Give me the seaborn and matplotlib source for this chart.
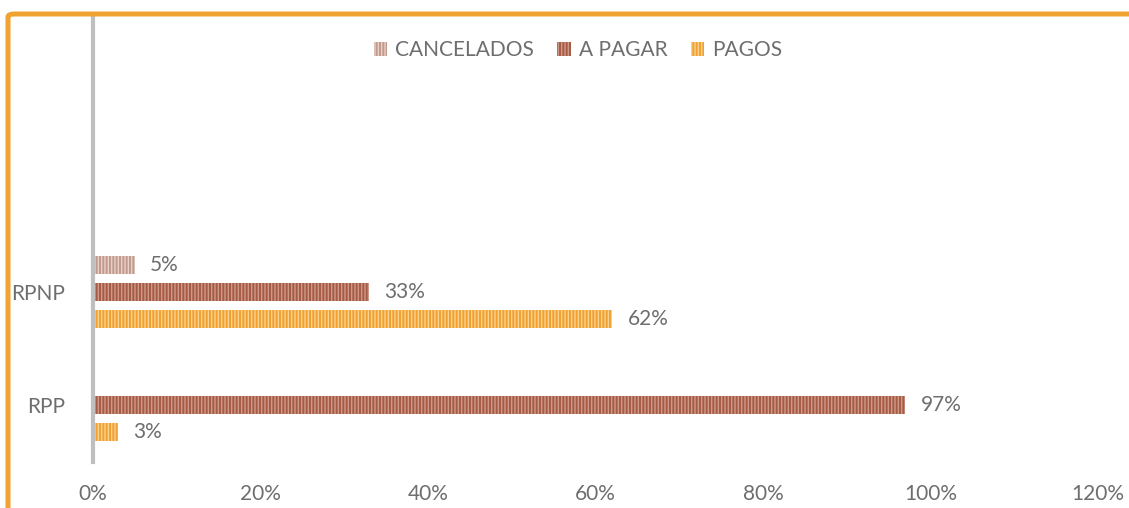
import matplotlib
matplotlib.use("Agg")
import matplotlib.pyplot as plt
import seaborn as sns
import pandas as pd
from matplotlib.patches import FancyBboxPatch, Patch

categories = ["RPNP", "RPP"]
series = ["CANCELADOS", "A PAGAR", "PAGOS"]
cancelados = [0.05, 0.0]
a_pagar = [0.33, 0.97]
pagos = [0.62, 0.03]
xticks = [0, 0.2, 0.4, 0.6, 0.8, 1.0, 1.2]

colors = {"CANCELADOS": "#C3998C", "A PAGAR": "#A65B45", "PAGOS": "#F0A130"}
stripe = {"CANCELADOS": "#E6D2CB", "A PAGAR": "#CF9A8A", "PAGOS": "#F9D190"}

rows = []
for i, c in enumerate(categories):
    for s, vals in zip(series, [cancelados, a_pagar, pagos]):
        rows.append({"cat": c, "serie": s, "val": vals[i]})
df = pd.DataFrame(rows)

sns.set_style("white")
plt.rcParams["font.family"] = ["Lato", "DejaVu Sans"]
plt.rcParams["hatch.linewidth"] = 1.0
txt = "#6E6E6E"
fs = 15

fig = plt.figure(figsize=(11.29, 5.08), dpi=100)
ax = fig.add_axes([93/1129, 1-461.5/508, (1098-93)/1129, (461.5-16)/508])

sns.barplot(data=df, y="cat", x="val", hue="serie", order=categories,
            hue_order=series, palette=colors, orient="h", width=0.72,
            gap=0.33, legend=False, ax=ax, saturation=1)

for cont, s in zip(ax.containers, series):
    for p in cont:
        p.set_hatch("|||||")
        p.set_edgecolor(stripe[s])
        p.set_linewidth(0)
    labels = [f"{v:.0%}" if v > 0 else "" for v in cont.datavalues]
    ax.bar_label(cont, labels=labels, padding=11, fontsize=fs, color=txt)

ax.set_xlim(0, 1.2)
ax.set_ylim(1.5, -2.44)
ax.set_xticks(xticks)
ax.set_xticklabels([f"{t:.0%}" for t in xticks])
ax.tick_params(axis="x", length=0, pad=16, labelsize=fs, labelcolor=txt)
ax.tick_params(axis="y", length=0, pad=20, labelsize=fs, labelcolor=txt)
ax.set_xlabel("")
ax.set_ylabel("")
for side in ["top", "right", "bottom"]:
    ax.spines[side].set_visible(False)
ax.spines["left"].set_color("#BFBFBF")
ax.spines["left"].set_linewidth(3)

handles = [Patch(facecolor=colors[s], edgecolor=stripe[s], hatch="|||||", linewidth=0, label=s) for s in series]
fig.legend(handles=handles, loc="center", bbox_to_anchor=(0.512, 1-50/508), ncol=3,
           frameon=False, fontsize=fs, labelcolor=txt, handlelength=0.65, handleheight=0.65,
           handletextpad=0.4, columnspacing=1.1)

top = 1 - 14/508
border = FancyBboxPatch((8/1129, -0.2), 1.3, top + 0.2,
                        boxstyle="round,pad=0,rounding_size=0.006",
                        transform=fig.transFigure, facecolor="none",
                        edgecolor="#F0A330", linewidth=3.6, clip_on=False)
fig.patches.append(border)

fig.savefig("out.png", dpi=100)
